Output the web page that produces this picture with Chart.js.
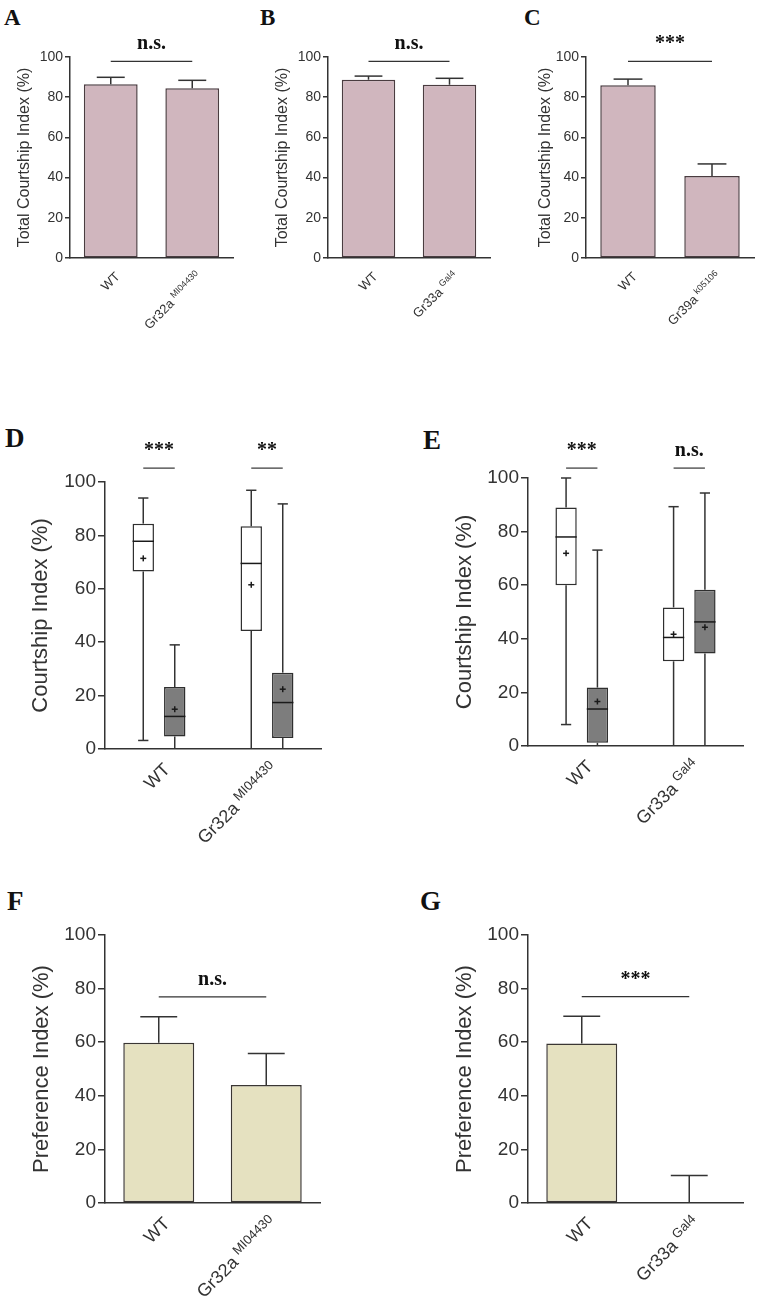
<!DOCTYPE html>
<html>
<head>
<meta charset="utf-8">
<script src="https://cdn.jsdelivr.net/npm/chart.js@4.4.0/dist/chart.umd.min.js"></script>
<style>
  body { margin: 0; background: #fff; }
  #fig { position: relative; width: 759px; height: 1300px; }
  #fig canvas { position: absolute; }
  .tag { position: absolute; font-family: "Liberation Serif", "Times New Roman", serif; font-weight: bold; line-height: 1; color: #111; }
</style>
</head>
<body>
<div id="fig">
  <div class="tag" style="left:4px;top:6px;font-size:23px">A</div>
  <div class="tag" style="left:260px;top:6px;font-size:23px">B</div>
  <div class="tag" style="left:524px;top:6px;font-size:23px">C</div>
  <div class="tag" style="left:5px;top:425px;font-size:27px">D</div>
  <div class="tag" style="left:423px;top:427px;font-size:27px">E</div>
  <div class="tag" style="left:7px;top:888px;font-size:27px">F</div>
  <div class="tag" style="left:420px;top:888px;font-size:27px">G</div>
  <canvas id="cA" width="253" height="320" style="left:0;top:30px"></canvas>
  <canvas id="cB" width="253" height="320" style="left:253px;top:30px"></canvas>
  <canvas id="cC" width="253" height="320" style="left:506px;top:30px"></canvas>
  <canvas id="cD" width="380" height="450" style="left:0;top:410px"></canvas>
  <canvas id="cE" width="379" height="450" style="left:380px;top:410px"></canvas>
  <canvas id="cF" width="380" height="420" style="left:0;top:880px"></canvas>
  <canvas id="cG" width="379" height="420" style="left:380px;top:880px"></canvas>
</div>
<script>
// ---- data ----
// A-C: total courtship index, bar = mean, errTop = mean + SEM
const labelsA = ['WT', 'Gr32a'];
const supA = ['', 'MI04430'];
const meanA = [86.5, 84.5];
const errTopA = [89.9, 88.4];

const labelsB = ['WT', 'Gr33a'];
const supB = ['', 'Gal4'];
const meanB = [88.7, 86.2];
const errTopB = [90.5, 89.4];

const labelsC = ['WT', 'Gr39a'];
const supC = ['', 'k05106'];
const meanC = [86.0, 40.8];
const errTopC = [89.0, 46.8];

// D-E: courtship index box plots, each entry = [min, q1, median, q3, max, mean]
const labelsD = ['WT', 'Gr32a'];
const supD = ['', 'MI04430'];
const boxD_white = [[3.2, 66.5, 77.8, 84.4, 94.0, 71.4], [0, 44.2, 69.5, 83.4, 96.9, 61.5]];
const boxD_grey = [[0, 4.7, 12.2, 23.2, 39.0, 14.9], [0, 4.1, 17.4, 28.6, 91.8, 22.4]];

const labelsE = ['WT', 'Gr33a'];
const supE = ['', 'Gal4'];
const boxE_white = [[8.0, 60.0, 78.0, 89.0, 100, 71.9], [0, 31.6, 40.5, 51.7, 89.3, 41.7]];
const boxE_grey = [[0, 1.2, 13.8, 21.8, 73.1, 16.6], [0, 34.5, 46.3, 58.3, 94.4, 44.3]];

// F-G: preference index
const labelsF = ['WT', 'Gr32a'];
const supF = ['', 'MI04430'];
const meanF = [59.8, 44.0];
const errTopF = [69.5, 55.8];

const labelsG = ['WT', 'Gr33a'];
const supG = ['', 'Gal4'];
const meanG = [59.5, 0];
const errTopG = [69.7, 10.3];

const yTicks = [0, 20, 40, 60, 80, 100];

// ---- styling ----
const ink = '#333333';
const sans = '"Liberation Sans", Arial, sans-serif';
const serif = '"Liberation Serif", "Times New Roman", serif';
const pink = '#d0b6be', pinkEdge = '#4a3c40';
const khaki = '#e5e1c0', khakiEdge = '#3a3633';
const boxGrey = '#7d7d7d', boxEdge = '#2f2f2f';

function line(ctx, x1, y1, x2, y2) {
  ctx.beginPath(); ctx.moveTo(x1, y1); ctx.lineTo(x2, y2); ctx.stroke();
}

function drawXLabel(ctx, px, py, main, sup, size) {
  ctx.save();
  ctx.translate(px, py);
  ctx.rotate(-Math.PI / 4);
  ctx.fillStyle = ink;
  ctx.textBaseline = 'middle';
  ctx.textAlign = 'right';
  let shift = 0;
  if (sup) {
    ctx.font = Math.round(size * 0.73) + 'px ' + sans;
    ctx.fillText(sup, 0, -size * 0.3);
    shift = ctx.measureText(sup).width + size * 0.25;
  }
  ctx.font = size + 'px ' + sans;
  ctx.fillText(main, -shift, 0);
  ctx.restore();
}

// plugin per panel: error bars / box whiskers, significance brackets, x labels
function panelPlugin(p) {
  return {
    id: 'panel',
    afterDatasetsDraw(chart) {
      const ctx = chart.ctx, y = chart.scales.y;
      ctx.save();
      ctx.strokeStyle = ink;
      ctx.lineWidth = 1.5;
      if (p.errTop) {
        const meta = chart.getDatasetMeta(0);
        p.errTop.forEach((v, i) => {
          const bar = meta.data[i];
          const cap = bar.width * 0.26;
          const yb = y.getPixelForValue(p.mean[i]);
          const yt = y.getPixelForValue(v);
          line(ctx, bar.x, yb, bar.x, yt);
          line(ctx, bar.x - cap, yt, bar.x + cap, yt);
        });
      }
      if (p.boxes) {
        p.boxes.forEach((series, d) => {
          const meta = chart.getDatasetMeta(d);
          series.forEach((b, i) => {
            const el = meta.data[i];
            const cx = el.x, hw = el.width / 2, cap = el.width * 0.24;
            const [mn, q1, md, q3, mx, mean] = b;
            ctx.strokeStyle = ink;
            ctx.lineWidth = 1.5;
            line(ctx, cx, y.getPixelForValue(q3), cx, y.getPixelForValue(mx));
            line(ctx, cx - cap, y.getPixelForValue(mx), cx + cap, y.getPixelForValue(mx));
            line(ctx, cx, y.getPixelForValue(q1), cx, y.getPixelForValue(mn));
            if (mn > 0.5) line(ctx, cx - cap, y.getPixelForValue(mn), cx + cap, y.getPixelForValue(mn));
            ctx.strokeStyle = '#1a1a1a';
            line(ctx, cx - hw, y.getPixelForValue(md), cx + hw, y.getPixelForValue(md));
            const my = y.getPixelForValue(mean);
            line(ctx, cx - 3, my, cx + 3, my);
            line(ctx, cx, my - 3, cx, my + 3);
          });
        });
      }
      ctx.restore();
    },
    afterDraw(chart) {
      const ctx = chart.ctx, x = chart.scales.x, y = chart.scales.y;
      ctx.save();
      ctx.strokeStyle = ink;
      ctx.lineWidth = 1.2;
      p.sig.forEach(s => {
        const xa = chart.getDatasetMeta(s.a[0]).data[s.a[1]].x;
        const xb = chart.getDatasetMeta(s.b[0]).data[s.b[1]].x;
        const yy = y.getPixelForValue(s.v);
        line(ctx, xa, yy, xb, yy);
        ctx.fillStyle = '#111';
        ctx.font = 'bold 20px ' + serif;
        ctx.textAlign = 'center';
        ctx.textBaseline = 'alphabetic';
        ctx.fillText(s.text, (xa + xb) / 2, yy - 12);
      });
      p.labels.forEach((lab, i) => {
        const px = x.getPixelForValue(i);
        drawXLabel(ctx, px + 4 + 0.25 * p.xFont, chart.chartArea.bottom + 13.5 + 0.25 * p.xFont, lab, p.sup[i], p.xFont);
      });
      ctx.restore();
    }
  };
}

function makePanel(id, p) {
  const r = p.rect, a = p.area;
  const titleLh = p.titleFont * 1.2;
  const datasets = p.boxes
    ? [
        { data: p.boxes[0].map(b => [b[1], b[3]]), backgroundColor: '#ffffff', borderColor: boxEdge, borderWidth: 1.5, borderSkipped: false, barPercentage: 0.68, categoryPercentage: 0.583 },
        { data: p.boxes[1].map(b => [b[1], b[3]]), backgroundColor: boxGrey, borderColor: boxEdge, borderWidth: 1.5, borderSkipped: false, barPercentage: 0.68, categoryPercentage: 0.583 }
      ]
    : [
        { data: p.mean, backgroundColor: p.fill, borderColor: p.edge, borderWidth: 1.5, borderSkipped: false, barPercentage: 0.66, categoryPercentage: 1 }
      ];
  new Chart(document.getElementById(id), {
    type: 'bar',
    data: { labels: p.labels, datasets },
    plugins: [panelPlugin(p)],
    options: {
      responsive: false,
      animation: false,
      layout: { padding: { top: a.t - r.y, right: r.x + r.w - a.r, left: 0, bottom: 0 } },
      plugins: { legend: { display: false }, tooltip: { enabled: false } },
      scales: {
        x: {
          grid: { display: false },
          border: { display: true, color: ink, width: 1.5 },
          ticks: { display: false },
          afterFit: s => { s.height = r.y + r.h - a.b; }
        },
        y: {
          min: 0, max: 100,
          afterBuildTicks: s => { s.ticks = yTicks.map(v => ({ value: v })); },
          grid: { drawOnChartArea: false, drawTicks: true, tickLength: p.tickLen, color: ink, lineWidth: 1.5 },
          border: { display: true, color: ink, width: 1.5 },
          ticks: { color: ink, font: { family: sans, size: p.tickFont }, padding: 2 },
          title: {
            display: true, text: p.title, color: ink,
            font: { family: sans, size: p.titleFont },
            padding: { top: p.titleX - r.x - titleLh / 2, bottom: 0 }
          },
          afterFit: s => { s.width = a.l - r.x; }
        }
      }
    }
  });
}

const small = { tickFont: 14, titleFont: 16, xFont: 13, tickLen: 5, title: 'Total Courtship Index (%)' };
const big = { tickFont: 19, titleFont: 22, xFont: 18, tickLen: 7 };

makePanel('cA', Object.assign({}, small, {
  rect: { x: 0, y: 30, w: 253, h: 320 }, area: { l: 70, t: 57, r: 233, b: 258 }, titleX: 25,
  labels: labelsA, sup: supA, mean: meanA, errTop: errTopA, fill: pink, edge: pinkEdge,
  sig: [{ a: [0, 0], b: [0, 1], v: 97.8, text: 'n.s.' }]
}));
makePanel('cB', Object.assign({}, small, {
  rect: { x: 253, y: 30, w: 253, h: 320 }, area: { l: 328, t: 57, r: 490, b: 258 }, titleX: 283,
  labels: labelsB, sup: supB, mean: meanB, errTop: errTopB, fill: pink, edge: pinkEdge,
  sig: [{ a: [0, 0], b: [0, 1], v: 97.8, text: 'n.s.' }]
}));
makePanel('cC', Object.assign({}, small, {
  rect: { x: 506, y: 30, w: 253, h: 320 }, area: { l: 586, t: 57, r: 754, b: 258 }, titleX: 546,
  labels: labelsC, sup: supC, mean: meanC, errTop: errTopC, fill: pink, edge: pinkEdge,
  sig: [{ a: [0, 0], b: [0, 1], v: 97.8, text: '***' }]
}));
makePanel('cD', Object.assign({}, big, {
  rect: { x: 0, y: 410, w: 380, h: 450 }, area: { l: 105, t: 482, r: 321, b: 749 }, titleX: 41,
  title: 'Courtship Index (%)', labels: labelsD, sup: supD, boxes: [boxD_white, boxD_grey],
  sig: [{ a: [0, 0], b: [1, 0], v: 105.2, text: '***' }, { a: [0, 1], b: [1, 1], v: 105.2, text: '**' }]
}));
makePanel('cE', Object.assign({}, big, {
  rect: { x: 380, y: 410, w: 379, h: 450 }, area: { l: 528, t: 478, r: 743, b: 746 }, titleX: 465,
  title: 'Courtship Index (%)', labels: labelsE, sup: supE, boxes: [boxE_white, boxE_grey],
  sig: [{ a: [0, 0], b: [1, 0], v: 103.7, text: '***' }, { a: [0, 1], b: [1, 1], v: 103.7, text: 'n.s.' }]
}));
makePanel('cF', Object.assign({}, big, {
  rect: { x: 0, y: 880, w: 380, h: 420 }, area: { l: 105, t: 935, r: 320, b: 1203 }, titleX: 42,
  title: 'Preference Index (%)', labels: labelsF, sup: supF, mean: meanF, errTop: errTopF, fill: khaki, edge: khakiEdge,
  sig: [{ a: [0, 0], b: [0, 1], v: 76.9, text: 'n.s.' }]
}));
makePanel('cG', Object.assign({}, big, {
  rect: { x: 380, y: 880, w: 379, h: 420 }, area: { l: 528, t: 935, r: 743, b: 1203 }, titleX: 465,
  title: 'Preference Index (%)', labels: labelsG, sup: supG, mean: meanG, errTop: errTopG, fill: khaki, edge: khakiEdge,
  sig: [{ a: [0, 0], b: [0, 1], v: 77.0, text: '***' }]
}));
</script>
</body>
</html>
